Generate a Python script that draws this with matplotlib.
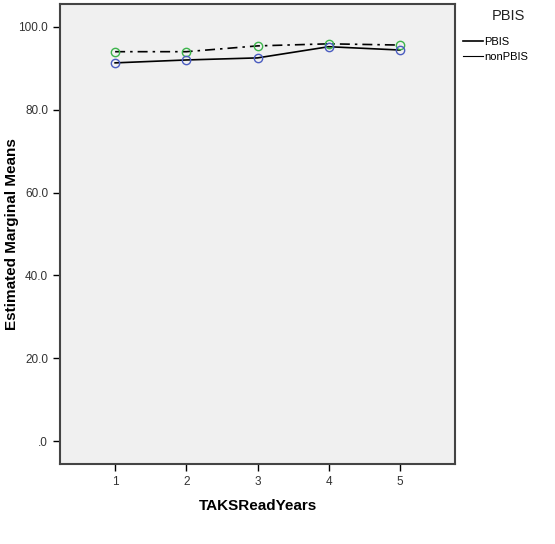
import matplotlib.pyplot as plt
from matplotlib.lines import Line2D

plt.rcParams['font.family'] = ['Liberation Sans', 'DejaVu Sans']

years = [1, 2, 3, 4, 5]
pbis = [91.3, 92.0, 92.5, 95.2, 94.4]      # solid line, blue markers
nonpbis = [94.0, 94.0, 95.4, 95.9, 95.6]   # dash-dot line, green markers
y_ticks = [0, 20, 40, 60, 80, 100]
y_labels = ['.0', '20.0', '40.0', '60.0', '80.0', '100.0']

fig = plt.figure(figsize=(5.55, 5.44), dpi=100)
ax = fig.add_axes([0.108, 0.147, 0.712, 0.846])
ax.set_facecolor('#f0f0f0')

ax.plot(years, nonpbis, color='black', linestyle=(0, (6, 3, 1.5, 3)), linewidth=1.2, zorder=2)
ax.plot(years, nonpbis, linestyle='none', marker='o', markersize=6, markerfacecolor='none',
        markeredgecolor='#3cb44b', markeredgewidth=1, zorder=3)
ax.plot(years, pbis, color='black', linestyle='-', linewidth=1.2, zorder=2)
ax.plot(years, pbis, linestyle='none', marker='o', markersize=6, markerfacecolor='none',
        markeredgecolor='#4a5cc0', markeredgewidth=1, zorder=3)

ax.set_xlim(0.225, 5.775)
ax.set_ylim(-5.56, 105.56)
ax.set_xticks(years)
ax.set_yticks(y_ticks)
ax.set_yticklabels(y_labels)
ax.tick_params(direction='out', length=5, width=1, labelsize=8.5, labelcolor='#333333')
for s in ax.spines.values():
    s.set_color('#444444')
    s.set_linewidth(1.5)

ax.set_xlabel('TAKSReadYears', fontsize=11, fontweight='bold', va='center')
ax.set_ylabel('Estimated Marginal Means', fontsize=11, fontweight='bold', va='center')
ax.xaxis.set_label_coords(0.5, -0.091)
ax.yaxis.set_label_coords(-0.121, 0.5)

fig.text(508 / 555, 1 - 16 / 544, 'PBIS', fontsize=10.5, ha='center', va='center', color='#222222')
handles = [Line2D([0], [0], color='black', linestyle='-', linewidth=1.2),
           Line2D([0], [0], color='black', linestyle='-', linewidth=0.8)]
ax.legend(handles, ['PBIS', 'nonPBIS'], loc='upper left',
          bbox_to_anchor=(1.0, 0.945), frameon=False, fontsize=8,
          handlelength=1.8, handletextpad=0.1, labelspacing=0.45, borderaxespad=0.3)

fig.savefig('out.png', dpi=100)
